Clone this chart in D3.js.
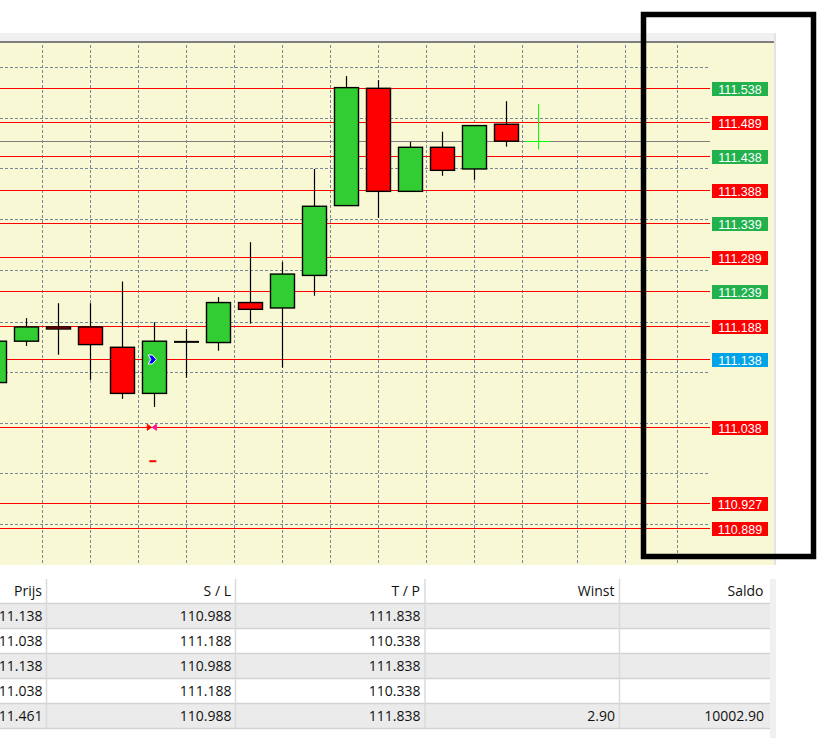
<!DOCTYPE html>
<html>
<head>
<meta charset="utf-8">
<script src="https://cdn.jsdelivr.net/npm/d3@7"></script>
<style>
  body { margin: 0; background: #fff; }
  svg { display: block; font-family: "Liberation Sans", Arial, sans-serif; }
  .tbl { font-family: "Open Sans", "Noto Sans", sans-serif; }
</style>
</head>
<body>
<div id="chart"></div>
<script>
// candles, oldest first (bar 0 is cut off at the left edge)
let opens  = [111.104, 111.165, 111.186, 111.186, 111.156, 111.088, 111.164, 111.163, 111.222, 111.214, 111.262, 111.365, 111.538, 111.386, 111.451, 111.419, 111.485, 111.461]
let highs  = [111.170, 111.199, 111.221, 111.221, 111.253, 111.193, 111.183, 111.230, 111.311, 111.282, 111.419, 111.556, 111.550, 111.459, 111.474, 111.483, 111.519, 111.515]
let lows   = [111.095, 111.158, 111.145, 111.108, 111.080, 111.068, 111.111, 111.151, 111.191, 111.126, 111.232, 111.365, 111.347, 111.386, 111.409, 111.403, 111.452, 111.448]
let closes = [111.165, 111.186, 111.183, 111.160, 111.088, 111.165, 111.164, 111.222, 111.212, 111.264, 111.364, 111.539, 111.386, 111.451, 111.417, 111.483, 111.460, 111.461]

// order levels on the price scale
let levelPrices = [111.538, 111.489, 111.438, 111.388, 111.339, 111.289, 111.239, 111.188, 111.138, 111.038, 110.927, 110.889]
let levelSides  = ["up", "down", "up", "down", "up", "down", "up", "down", "open", "down", "down", "down"]
let bid = 111.461

// grid
let gridPrices = [111.569, 111.494, 111.420, 111.345, 111.270, 111.194, 111.120, 111.045, 110.970, 110.896]
let gridBars = [1.5, 3, 4.5, 6, 7.5, 9, 10.5, 12, 13.5, 15, 16.5, 18.22, 19.72, 21.34]

// trade markers
let markerBars = [5, 5, 5]
let markerPrices = [111.138, 111.038, 110.988]
let markerTypes = ["buy", "close", "stop"]

// trade table
let columns = ["Prijs", "S / L", "T / P", "Winst", "Saldo"]
let prijs = ["111.138", "111.038", "111.138", "111.038", "111.461"]
let stopLoss = ["110.988", "111.188", "110.988", "111.188", "110.988"]
let takeProfit = ["111.838", "110.338", "111.838", "110.338", "111.838"]
let winst = ["", "", "", "", "2.90"]
let saldo = ["", "", "", "", "10002.90"]

let w = 830
let h = 738
let plotTop = 43
let plotBottom = 565
let plotRight = 774
let lineEnd = 710

let sideColour = { up: "#22b14c", down: "#ff0000", open: "#00a2e8" }

let svg = d3.select("#chart")
  .append("svg")
  .attr("width", w)
  .attr("height", h)

let x = d3.scaleLinear().domain([0, 1]).range([-5.7, 26.3])
let y = d3.scaleLinear().domain([111.538, 111.038]).range([88.3, 427.3])

// window frame
svg.append("rect").attr("x", 0).attr("y", 33).attr("width", 776).attr("height", 9).attr("fill", "#f0f0f0")
svg.append("rect").attr("x", 0).attr("y", 41).attr("width", 776).attr("height", 2).attr("fill", "#7f7f7f")
svg.append("rect").attr("x", 0).attr("y", plotTop).attr("width", plotRight).attr("height", plotBottom - plotTop).attr("fill", "#f8f8d4")
svg.append("rect").attr("x", plotRight).attr("y", 33).attr("width", 2).attr("height", plotBottom - 33).attr("fill", "#e3e3e3")

svg.append("clipPath").attr("id", "plot")
  .append("rect").attr("x", 0).attr("y", plotTop).attr("width", plotRight).attr("height", plotBottom - plotTop)

let g = svg.append("g").attr("clip-path", "url(#plot)")

// dashed grid
g.selectAll(".vgrid")
  .data(gridBars)
  .join("line")
  .attr("class", "vgrid")
  .attr("x1", d => Math.round(x(d)) + 0.5)
  .attr("x2", d => Math.round(x(d)) + 0.5)
  .attr("y1", plotTop + 2)
  .attr("y2", plotBottom)
  .attr("stroke", "#7a8796")
  .attr("stroke-dasharray", "3,2")

g.selectAll(".hgrid")
  .data(gridPrices)
  .join("line")
  .attr("class", "hgrid")
  .attr("x1", 0)
  .attr("x2", lineEnd)
  .attr("y1", d => Math.round(y(d)) + 0.5)
  .attr("y2", d => Math.round(y(d)) + 0.5)
  .attr("stroke", "#7a8796")
  .attr("stroke-dasharray", "3,2")

// order lines
g.selectAll(".level")
  .data(levelPrices)
  .join("line")
  .attr("class", "level")
  .attr("x1", 0)
  .attr("x2", lineEnd)
  .attr("y1", d => Math.round(y(d)) + 0.5)
  .attr("y2", d => Math.round(y(d)) + 0.5)
  .attr("stroke", "#ff0000")
  .attr("stroke-width", 1.2)

// bid line
g.append("line")
  .attr("x1", 0).attr("x2", lineEnd)
  .attr("y1", Math.round(y(bid)) + 0.5).attr("y2", Math.round(y(bid)) + 0.5)
  .attr("stroke", "#808080")

// candles
let bars = d3.range(opens.length - 1).map(i => ({ i, o: opens[i], h: highs[i], l: lows[i], c: closes[i] }))
let cx = d => Math.round(x(d.i)) + 0.5

g.selectAll(".wick")
  .data(bars)
  .join("line")
  .attr("class", "wick")
  .attr("x1", cx).attr("x2", cx)
  .attr("y1", d => y(d.h)).attr("y2", d => y(d.l))
  .attr("stroke", "#000")
  .attr("stroke-width", 1.2)

g.selectAll(".body")
  .data(bars.filter(d => d.o != d.c))
  .join("rect")
  .attr("class", "body")
  .attr("x", d => cx(d) - 12)
  .attr("width", 24)
  .attr("y", d => y(Math.max(d.o, d.c)))
  .attr("height", d => Math.max(1, Math.abs(y(d.o) - y(d.c))))
  .attr("fill", d => d.c > d.o ? "#32cd32" : "#ff0000")
  .attr("stroke", "#000")
  .attr("stroke-width", 1.4)

g.selectAll(".doji")
  .data(bars.filter(d => d.o == d.c))
  .join("line")
  .attr("class", "doji")
  .attr("x1", d => cx(d) - 12.5).attr("x2", d => cx(d) + 12.5)
  .attr("y1", d => y(d.o)).attr("y2", d => y(d.o))
  .attr("stroke", "#000")
  .attr("stroke-width", 2)

// current bar
let last = opens.length - 1
let lx = Math.round(x(last)) + 0.5
g.append("line")
  .attr("x1", lx).attr("x2", lx)
  .attr("y1", y(highs[last])).attr("y2", y(lows[last]))
  .attr("stroke", "#00ff00")
g.append("line")
  .attr("x1", lx - 13).attr("x2", lx + 12)
  .attr("y1", Math.round(y(closes[last])) + 0.5).attr("y2", Math.round(y(closes[last])) + 0.5)
  .attr("stroke", "#00ff00")

// trade markers
let markerShapes = {
  buy:   [{ d: "M-4,-4.5 L0,-4.5 L4,0 L0,4.5 L-4,4.5 L-1.5,0 Z", fill: "#0000ff", stroke: "#fff" }],
  close: [{ d: "M-5,-3 L-1,0 L-5,3 Z", fill: "#ff0000", stroke: "#ff0000" },
          { d: "M4,-3 L0,0 L4,3 Z", fill: "#ff1493", stroke: "#ff1493" }],
  stop:  [{ d: "M-3,-1 L4,-1 L4,1 L-3,1 Z", fill: "#ff0000", stroke: "none" }]
}
markerTypes.forEach((t, k) => {
  let mg = g.append("g")
    .attr("transform", `translate(${x(markerBars[k]) - 2},${y(markerPrices[k])})`)
  markerShapes[t].forEach(s => {
    mg.append("path").attr("d", s.d).attr("fill", s.fill).attr("stroke", s.stroke).attr("stroke-width", 1)
  })
})

// price labels
let labels = svg.selectAll(".plabel")
  .data(levelPrices)
  .join("g")
  .attr("class", "plabel")
  .attr("transform", d => `translate(712,${Math.round(y(d)) - 6})`)

labels.append("rect")
  .attr("width", 56)
  .attr("height", 14)
  .attr("fill", (d, i) => sideColour[levelSides[i]])

labels.append("text")
  .attr("x", 28)
  .attr("y", 11.5)
  .attr("text-anchor", "middle")
  .attr("fill", "#fff")
  .attr("font-size", "12.5px")
  .text(d => d.toFixed(3))

// highlight box
svg.append("rect")
  .attr("x", 643.5).attr("y", 14.5)
  .attr("width", 170).attr("height", 542)
  .attr("fill", "none")
  .attr("stroke", "#000")
  .attr("stroke-width", 5.5)

// table
let colEdges = [-150, 46.5, 235.5, 425, 619.5, 770]
let textEnds = [42.5, 231.5, 420.5, 615, 764]
let headTop = 579
let rowTop = 603
let rowH = 25
let rows = d3.range(prijs.length).map(i => [prijs[i], stopLoss[i], takeProfit[i], winst[i], saldo[i]])
let t = svg.append("g").attr("class", "tbl")

t.append("rect").attr("x", 770).attr("y", headTop).attr("width", 6).attr("height", h - headTop).attr("fill", "#f0f0f0")

t.selectAll(".rowbg")
  .data(rows)
  .join("rect")
  .attr("class", "rowbg")
  .attr("x", 0)
  .attr("y", (d, i) => rowTop + i * rowH)
  .attr("width", 770)
  .attr("height", rowH)
  .attr("fill", (d, i) => i % 2 == 0 ? "#ebebeb" : "#fff")

t.selectAll(".rowline")
  .data(d3.range(rows.length + 1))
  .join("line")
  .attr("class", "rowline")
  .attr("x1", 0).attr("x2", 770)
  .attr("y1", d => rowTop + d * rowH + 0.5).attr("y2", d => rowTop + d * rowH + 0.5)
  .attr("stroke", "#d2d2d2")
  .attr("stroke-width", 1.5)

t.selectAll(".colline")
  .data(colEdges.slice(1, 5))
  .join("line")
  .attr("class", "colline")
  .attr("x1", d => d).attr("x2", d => d)
  .attr("y1", headTop).attr("y2", rowTop + rows.length * rowH)
  .attr("stroke", "#dadada")
  .attr("stroke-width", 1.5)

t.selectAll(".head")
  .data(columns)
  .join("text")
  .attr("class", "head")
  .attr("x", (d, i) => textEnds[i] - 0.5)
  .attr("y", 596)
  .attr("text-anchor", "end")
  .attr("font-size", "14px")
  .attr("fill", "#111")
  .text(d => d)

rows.forEach((r, i) => {
  t.selectAll(".cell" + i)
    .data(r)
    .join("text")
    .attr("x", (d, j) => textEnds[j])
    .attr("y", rowTop + i * rowH + 18)
    .attr("text-anchor", "end")
    .attr("font-size", "14px")
    .attr("fill", "#111")
    .text(d => d)
})
</script>
</body>
</html>
